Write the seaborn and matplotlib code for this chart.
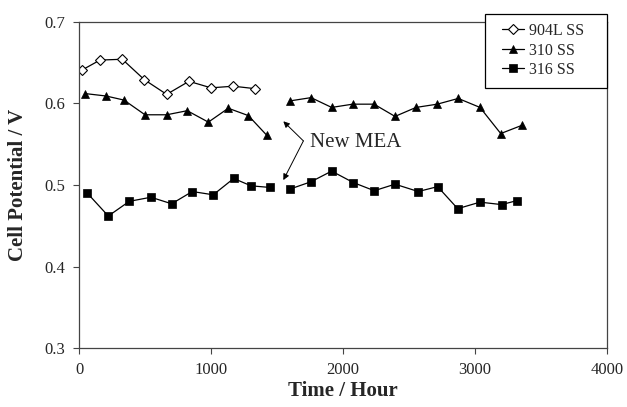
import matplotlib
matplotlib.use("Agg")
import matplotlib.pyplot as plt
import seaborn as sns
import pandas as pd
from matplotlib.lines import Line2D
from matplotlib.patches import Rectangle

# ---- data ----
t_904 = [25, 159, 328, 495, 664, 833, 1000, 1169, 1333]
v_904 = [0.641, 0.653, 0.654, 0.629, 0.611, 0.627, 0.619, 0.621, 0.618]

t_310_a = [45, 205, 341, 500, 664, 820, 980, 1131, 1283, 1422]
v_310_a = [0.612, 0.609, 0.604, 0.586, 0.586, 0.591, 0.577, 0.594, 0.585, 0.561]
t_310_b = [1598, 1758, 1914, 2073, 2235, 2394, 2553, 2714, 2873, 3038, 3195, 3354]
v_310_b = [0.603, 0.607, 0.595, 0.599, 0.599, 0.584, 0.595, 0.599, 0.606, 0.595, 0.563, 0.573]

t_316_a = [63, 222, 381, 545, 702, 858, 1017, 1172, 1303, 1447]
v_316_a = [0.490, 0.462, 0.480, 0.485, 0.477, 0.492, 0.488, 0.508, 0.499, 0.497]
t_316_b = [1598, 1758, 1914, 2078, 2237, 2394, 2570, 2717, 2869, 3038, 3202, 3320]
v_316_b = [0.495, 0.504, 0.517, 0.503, 0.493, 0.501, 0.492, 0.498, 0.471, 0.479, 0.476, 0.481]

labels = ["904L SS", "310 SS", "316 SS"]
x_ticks = [0, 1000, 2000, 3000, 4000]
y_ticks = [0.3, 0.4, 0.5, 0.6, 0.7]

annot_text = "New MEA"
arrow_targets = [(1548, 0.578), (1548, 0.506)]
arrow_tail = (1700, 0.554)

# ---- build tidy table ----
rows = []
def add(series, seg, ts, vs):
    for t, v in zip(ts, vs):
        rows.append(dict(series=series, seg=seg, time=t, volt=v))
add(labels[0], 0, t_904, v_904)
add(labels[1], 0, t_310_a, v_310_a)
add(labels[1], 1, t_310_b, v_310_b)
add(labels[2], 0, t_316_a, v_316_a)
add(labels[2], 1, t_316_b, v_316_b)
df = pd.DataFrame(rows)

sns.set_style("white")
plt.rcParams["font.family"] = ["Liberation Serif", "DejaVu Serif"]

W, H = 627, 407
fig = plt.figure(figsize=(W/100, H/100), dpi=100)
ax = fig.add_axes([79/W, 1-348.3/H, (607-79)/W, (348.3-21.7)/H])

styles = {
    labels[0]: dict(marker="D", markersize=4.6, markerfacecolor="white", markeredgecolor="black", markeredgewidth=0.8),
    labels[1]: dict(marker="^", markersize=6.2, markerfacecolor="black", markeredgecolor="black", markeredgewidth=0.5),
    labels[2]: dict(marker="s", markersize=5.2, markerfacecolor="black", markeredgecolor="black", markeredgewidth=0.5),
}

for (s, seg), sub in df.groupby(["series", "seg"], sort=False):
    sns.lineplot(data=sub, x="time", y="volt", ax=ax, color="black", linewidth=0.9,
                 estimator=None, sort=False, legend=False, **styles[s])

ax.set_xlim(0, 4000)
ax.set_ylim(0.3, 0.7)
ax.set_xticks(x_ticks)
ax.set_yticks(y_ticks)
ax.set_xticklabels([str(v) for v in x_ticks], fontsize=12)
ax.set_yticklabels([f"{v:.1f}" for v in y_ticks], fontsize=12)
ax.tick_params(axis="both", direction="out", length=4, width=0.8, color="#444444",
               left=True, bottom=True, pad=6)
for sp in ax.spines.values():
    sp.set_color("#444444")
    sp.set_linewidth(0.9)

ax.set_xlabel("Time / Hour", fontsize=15, fontweight="bold", labelpad=2)
ax.set_ylabel("Cell Potential / V", fontsize=15, fontweight="bold", labelpad=12)

# annotation
ax.text(1750, 0.552, annot_text, fontsize=15, va="center", ha="left")
for tgt in arrow_targets:
    ax.annotate("", xy=tgt, xytext=arrow_tail,
                arrowprops=dict(arrowstyle="-|>", color="black", lw=0.7, mutation_scale=9,
                                shrinkA=0, shrinkB=0))

# legend box (Excel-style, overlapping the top-right corner)
frame = Rectangle((485/W, 1-88/H), (607-485)/W, (88-13.5)/H, transform=fig.transFigure,
                  facecolor="white", edgecolor="black", linewidth=0.9, zorder=5)
fig.add_artist(frame)
handles = [Line2D([], [], color="black", lw=0.9, **styles[l]) for l in labels]
leg = fig.legend(handles, labels, loc="upper left", bbox_to_anchor=(502/W, 1-23/H),
                 frameon=False, fontsize=11.5, handlelength=1.35, handletextpad=0.35,
                 borderpad=0.0, labelspacing=0.22, borderaxespad=0.0)
leg.set_zorder(10)

fig.savefig("out.png", dpi=100)
